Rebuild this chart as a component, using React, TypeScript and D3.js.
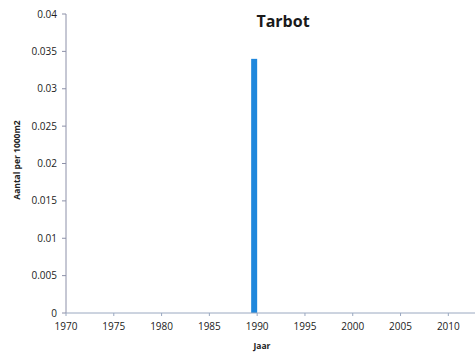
import React from "react";
import * as d3 from "d3";

const years = [1989];
const values = [0.034];
const yTicks = [0, 0.005, 0.01, 0.015, 0.02, 0.025, 0.03, 0.035, 0.04];
const yTickLabels = ["0", "0.005", "0.01", "0.015", "0.02", "0.025", "0.03", "0.035", "0.04"];
const xTicks = [1970, 1975, 1980, 1985, 1990, 1995, 2000, 2005, 2010];
const title = "Tarbot";
const yTitle = "Aantal per 1000m2";
const xTitle = "Jaar";

export default function App() {
  const W = 475, H = 357;
  const x = d3.scaleLinear().domain([1970, 2013]).range([66, 477]);
  const y = d3.scaleLinear().domain([0, 0.04]).range([313, 14]);
  const barW = 6;
  const font = "Open Sans, Liberation Sans, sans-serif";
  return (
    <svg width={W} height={H} style={{ position: "absolute", left: 0, top: 0, background: "#fff" }}>
      <rect x={0} y={0} width={W} height={H} fill="#fff" />
      <text x={283} y={27} textAnchor="middle" fontFamily={font} fontWeight="bold" fontSize={16} fill="#1a1a1a">{title}</text>
      {values.map((v, i) => (
        <rect key={i} x={x(years[i] + 1) - barW} y={y(v)} width={barW} height={y(0) - y(v)} fill="#1f87dc" />
      ))}
      <line x1={66} x2={66} y1={y(0.04)} y2={y(0)} stroke="#8c90a8" strokeWidth={1} />
      <line x1={66} x2={477} y1={y(0)} y2={y(0)} stroke="#9aa8c0" strokeWidth={1} />
      {yTicks.map((t, i) => (
        <g key={t}>
          <line x1={62} x2={66} y1={y(t)} y2={y(t)} stroke="#8c90a8" />
          <text x={57} y={y(t) + 3.5} textAnchor="end" fontFamily={font} fontSize={10} fill="#222">{yTickLabels[i]}</text>
        </g>
      ))}
      {xTicks.map((t) => (
        <g key={t}>
          <line x1={x(t)} x2={x(t)} y1={y(0)} y2={y(0) + 3} stroke="#9aa8c0" />
          <text x={x(t)} y={330} textAnchor="middle" fontFamily={font} fontSize={10} fill="#222">{t}</text>
        </g>
      ))}
      <text x={262} y={349} textAnchor="middle" fontFamily={font} fontWeight="bold" fontSize={8.5} fill="#222">{xTitle}</text>
      <text transform="translate(20,160) rotate(-90)" textAnchor="middle" fontFamily={font} fontWeight="bold" fontSize={8.5} fill="#222">{yTitle}</text>
    </svg>
  );
}
